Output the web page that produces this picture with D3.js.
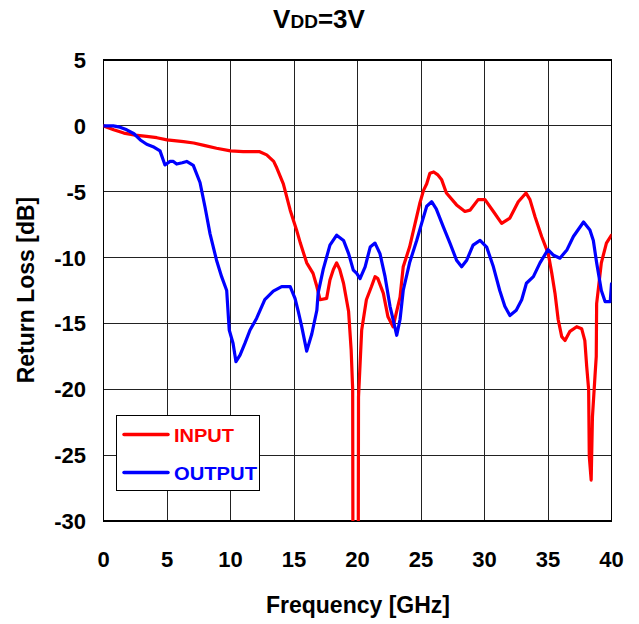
<!DOCTYPE html>
<html><head><meta charset="utf-8">
<script src="https://cdn.jsdelivr.net/npm/d3@7"></script>
<style>body{margin:0;background:#fff;}svg{display:block;font-family:"Liberation Sans",Arial,sans-serif;}</style>
</head><body>
<svg id="c" width="639" height="624"></svg>
<script>
const xTicks = [0,5,10,15,20,25,30,35,40];
const yTicks = [5,0,-5,-10,-15,-20,-25,-30];
const inputFreq = [0,0.8,1.6,2.5,3.4,4.2,5,6.3,7.1,8,8.9,10,11,12.3,12.85,13.4,13.6,14.16,14.7,15.2,15.5,16,16.5,16.8,17.05,17.57,17.83,18.1,18.36,18.6,18.9,19.3,19.5,19.62,19.64,20.06,20.08,20.33,20.7,21.1,21.38,21.6,22.03,22.4,22.8,23.35,23.6,24.1,24.66,24.9,25.2,25.45,25.7,26.0,26.3,26.63,27.0,27.8,28.46,28.86,29.5,30.04,30.7,31.35,32.0,32.66,33.27,33.58,33.98,34.5,35.02,35.3,35.55,35.8,36.08,36.34,36.73,37.26,37.65,37.9,38.05,38.2,38.25,38.4,38.5,38.7,38.8,38.83,39.2,39.6,40];
const inputDb = [0,-0.3,-0.55,-0.7,-0.8,-0.9,-1.06,-1.2,-1.3,-1.5,-1.7,-1.9,-1.95,-1.96,-2.2,-2.7,-3.1,-4.4,-6.4,-7.9,-8.9,-10.4,-11.2,-12.2,-13.2,-13.1,-11.7,-10.9,-10.4,-10.9,-11.95,-14.1,-17,-20,-32,-32,-20.6,-15.5,-13.2,-12.2,-11.45,-11.6,-12.7,-14.5,-15.25,-13,-10.7,-9.2,-6.9,-5.9,-4.9,-4.4,-3.6,-3.5,-3.7,-4.1,-5.1,-6.0,-6.5,-6.4,-5.6,-5.6,-6.5,-7.4,-7.0,-5.76,-5.1,-5.6,-6.9,-8.4,-9.7,-11.2,-12.7,-14.7,-16.0,-16.3,-15.6,-15.25,-15.4,-16.3,-18.3,-20,-25.1,-26.9,-22.1,-19,-17.5,-13.5,-10.4,-8.9,-8.3];
const outputFreq = [0,0.77,1.3,1.83,2.4,2.9,3.4,3.9,4.45,4.84,5.24,5.5,5.76,6.2,6.55,7.07,7.6,8.0,8.39,8.9,9.3,9.7,9.9,10.2,10.43,10.75,11.14,11.54,12.06,12.7,13.37,14.03,14.7,15.08,15.34,15.6,16.0,16.4,16.8,16.9,17.3,17.83,18.36,18.9,19.3,19.67,19.94,20.2,20.6,21,21.38,21.77,22.17,22.56,22.8,23.09,23.35,23.6,24.1,24.66,25.05,25.45,25.84,26.2,26.75,27.28,27.8,28.2,28.6,29.1,29.65,30.17,30.7,31.2,31.6,32.0,32.5,32.93,33.3,33.85,34.37,35.0,35.4,35.94,36.5,37,37.8,38.3,38.57,38.83,39.2,39.5,39.9,40];
const outputDb = [0,0,-0.1,-0.3,-0.6,-1.07,-1.4,-1.58,-1.9,-2.97,-2.7,-2.7,-2.9,-2.8,-2.7,-3.0,-4.3,-6.2,-8.2,-10.2,-11.45,-12.5,-15.5,-16.5,-17.9,-17.4,-16.5,-15.5,-14.6,-13.2,-12.55,-12.2,-12.2,-13.1,-14.1,-15.2,-17.1,-15.8,-14.0,-12.7,-10.9,-9.05,-8.3,-8.7,-9.7,-10.95,-11.2,-11.6,-10.7,-9.2,-8.9,-9.7,-11.45,-13.7,-14.7,-15.9,-14.7,-12.5,-10.4,-8.7,-7.4,-6.1,-5.76,-6.3,-7.65,-8.9,-10.2,-10.7,-10.2,-9.05,-8.7,-9.2,-10.7,-12.5,-13.7,-14.4,-14.0,-13.2,-11.95,-11.45,-10.4,-9.4,-9.8,-10.05,-9.4,-8.4,-7.3,-7.9,-8.7,-10.4,-12.5,-13.35,-13.35,-12.0];
const seriesNames = ["INPUT","OUTPUT"];
const colors = ["#ff0000","#0000ff"];

const svg = d3.select("#c");
const L=103.5, R=611.5, T=60, B=521;
const x = d3.scaleLinear().domain([0,40]).range([L,R]);
const y = d3.scaleLinear().domain([-30,5]).range([B,T]);

// gridlines
const g = svg.append("g");
g.selectAll(".vg").data(xTicks).join("line")
  .attr("x1",d=>x(d)).attr("x2",d=>x(d)).attr("y1",T).attr("y2",B)
  .attr("stroke","#222").attr("stroke-width",1).attr("shape-rendering","crispEdges");
g.selectAll(".hg").data(yTicks).join("line")
  .attr("y1",d=>y(d)).attr("y2",d=>y(d)).attr("x1",L).attr("x2",R)
  .attr("stroke","#222").attr("stroke-width",1).attr("shape-rendering","crispEdges");
svg.append("rect").attr("x",L).attr("y",T).attr("width",R-L).attr("height",B-T)
  .attr("fill","none").attr("stroke","#000").attr("stroke-width",1.5).attr("shape-rendering","crispEdges");

// tick labels
svg.selectAll(".xt").data(xTicks).join("text")
  .attr("x",d=>x(d)).attr("y",567).attr("text-anchor","middle")
  .attr("font-size",22).attr("font-weight","bold").text(d=>d);
svg.selectAll(".yt").data(yTicks).join("text")
  .attr("x",86).attr("y",d=>y(d)+8).attr("text-anchor","end")
  .attr("font-size",22).attr("font-weight","bold").text(d=>d);

// axis titles
svg.append("text").attr("x",358).attr("y",613).attr("text-anchor","middle")
  .attr("font-size",23).attr("font-weight","bold").text("Frequency [GHz]");
svg.append("text").attr("transform","translate(34,290) rotate(-90)").attr("text-anchor","middle")
  .attr("font-size",23).attr("font-weight","bold").text("Return Loss [dB]");

// title
const t = svg.append("text").attr("x",319).attr("y",28).attr("text-anchor","middle")
  .attr("font-weight","bold").attr("font-size",26);
t.append("tspan").text("V");
t.append("tspan").attr("font-size",19).text("DD");
t.append("tspan").text("=3V");

// lines
svg.append("clipPath").attr("id","clip").append("rect")
  .attr("x",L).attr("y",T).attr("width",R-L).attr("height",B-T);
const line = d3.line().x(d=>x(d[0])).y(d=>y(d[1]));
const series = [d3.zip(inputFreq,inputDb), d3.zip(outputFreq,outputDb)];
svg.append("g").attr("clip-path","url(#clip)").selectAll("path").data(series).join("path")
  .attr("d",line).attr("fill","none").attr("stroke",(d,i)=>colors[i])
  .attr("stroke-width",3.2).attr("stroke-linejoin","round").attr("stroke-linecap","round");

// legend
const lg = svg.append("g");
lg.append("rect").attr("x",116.5).attr("y",415.5).attr("width",143).attr("height",75)
  .attr("fill","#fff").attr("stroke","#000").attr("stroke-width",1);
seriesNames.forEach((n,i)=>{
  const yy = 434.5 + i*38;
  lg.append("line").attr("x1",124).attr("x2",168).attr("y1",yy).attr("y2",yy)
    .attr("stroke",colors[i]).attr("stroke-width",3.5).attr("stroke-linecap","round");
  lg.append("text").attr("x",174).attr("y",yy+7).attr("font-size",18).attr("font-weight","bold")
    .attr("fill",colors[i]).attr("textLength", i===0?60:83).attr("lengthAdjust","spacingAndGlyphs").text(n);
});
</script>
</body></html>
